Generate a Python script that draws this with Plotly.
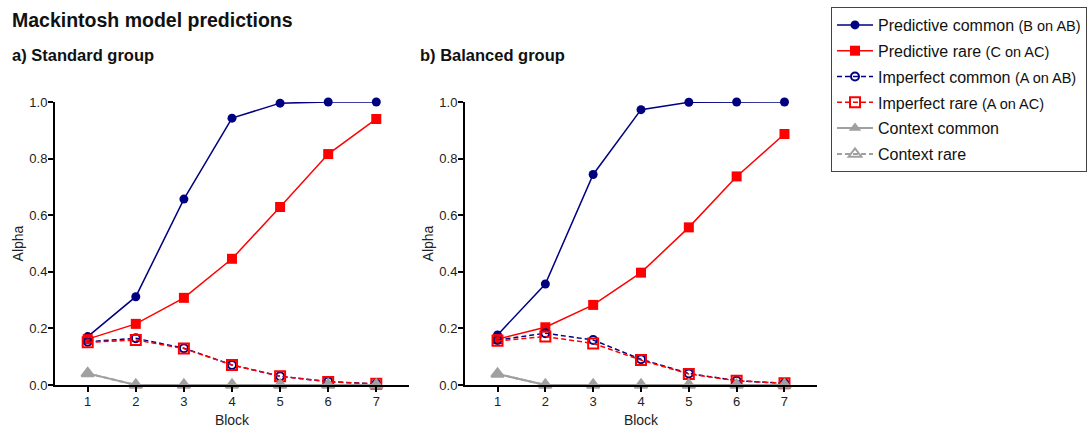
import plotly.graph_objects as go

blocks = [1, 2, 3, 4, 5, 6, 7]

# a) Standard group
std_pred_common = [0.171, 0.312, 0.657, 0.943, 0.996, 1.0, 1.0]
std_pred_rare = [0.162, 0.216, 0.308, 0.446, 0.629, 0.816, 0.940]
std_imp_common = [0.153, 0.165, 0.130, 0.071, 0.031, 0.012, 0.004]
std_imp_rare = [0.151, 0.159, 0.129, 0.071, 0.031, 0.011, 0.004]
std_ctx_common = [0.041, 0.0, 0.0, 0.0, 0.0, 0.0, 0.0]
std_ctx_rare = [0.041, 0.0, 0.0, 0.0, 0.0, 0.0, 0.0]

# b) Balanced group
bal_pred_common = [0.177, 0.357, 0.744, 0.973, 0.999, 1.0, 1.0]
bal_pred_rare = [0.162, 0.204, 0.283, 0.397, 0.557, 0.737, 0.887]
bal_imp_common = [0.159, 0.183, 0.159, 0.091, 0.041, 0.015, 0.006]
bal_imp_rare = [0.156, 0.171, 0.147, 0.088, 0.039, 0.015, 0.006]
bal_ctx_common = [0.039, 0.0, 0.0, 0.0, 0.0, 0.0, 0.0]
bal_ctx_rare = [0.039, 0.0, 0.0, 0.0, 0.0, 0.0, 0.0]

names = [
    "Predictive common <span style='font-size:14.5px'>(B on AB)</span>",
    "Predictive rare <span style='font-size:14.5px'>(C on AC)</span>",
    "Imperfect common <span style='font-size:14.5px'>(A on AB)</span>",
    "Imperfect rare <span style='font-size:14.5px'>(A on AC)</span>",
    "Context common",
    "Context rare",
]

NAVY = "#000080"
RED = "#FF0000"
GRAY = "#A0A0A0"
DASH = "5px,3px"
FONT = "Liberation Sans, Arial"

styles = [
    dict(line=dict(color=NAVY, width=1.5), marker=dict(symbol="circle", size=9, color=NAVY)),
    dict(line=dict(color=RED, width=1.5), marker=dict(symbol="square", size=10, color=RED)),
    dict(line=dict(color=NAVY, width=1.5, dash=DASH),
         marker=dict(symbol="circle-open", size=8, color=NAVY, line=dict(width=2))),
    dict(line=dict(color=RED, width=1.5, dash=DASH),
         marker=dict(symbol="square-open", size=10, color=RED, line=dict(width=2))),
    dict(line=dict(color=GRAY, width=2), marker=dict(symbol="triangle-up", size=11, color=GRAY)),
    dict(line=dict(color=GRAY, width=2, dash=DASH),
         marker=dict(symbol="triangle-up-open", size=11, color=GRAY, line=dict(width=2))),
]

std = [std_pred_common, std_pred_rare, std_imp_common, std_imp_rare, std_ctx_common, std_ctx_rare]
bal = [bal_pred_common, bal_pred_rare, bal_imp_common, bal_imp_rare, bal_ctx_common, bal_ctx_rare]

fig = go.Figure()
for i, (nm, st) in enumerate(zip(names, styles)):
    fig.add_trace(go.Scatter(x=blocks, y=std[i], mode="lines+markers", name=nm,
                             legendgroup=f"g{i}", showlegend=True,
                             xaxis="x", yaxis="y", cliponaxis=False, **st))
for i, (nm, st) in enumerate(zip(names, styles)):
    fig.add_trace(go.Scatter(x=blocks, y=bal[i], mode="lines+markers", name=nm,
                             legendgroup=f"g{i}", showlegend=False,
                             xaxis="x2", yaxis="y2", cliponaxis=False, **st))

W, H = 1090, 430
def px(x):
    return x / W
def py(y):
    return (H - y) / H

axis_common = dict(showgrid=False, zeroline=False, showline=True, linecolor="black",
                   linewidth=2, ticks="outside", ticklen=5, tickwidth=1.5, tickcolor="black",
                   automargin=False, ticklabelstandoff=-2,
                   tickfont=dict(family=FONT, size=13, color="#222"))

xcommon = dict(axis_common, range=[0.32, 7.68], tickvals=blocks, ticktext=[str(b) for b in blocks],
               title=dict(text="Block", font=dict(family=FONT, size=14, color="#222"),
                          standoff=8))
ycommon = dict(axis_common, range=[0, 1.0], tickvals=[0, 0.2, 0.4, 0.6, 0.8, 1.0],
               ticktext=["0.0", "0.2", "0.4", "0.6", "0.8", "1.0"],
               title=dict(text="Alpha", font=dict(family=FONT, size=14, color="#222"),
                          standoff=2))

fig.update_layout(
    width=W, height=H,
    margin=dict(l=0, r=0, t=0, b=0),
    paper_bgcolor="white", plot_bgcolor="white",
    font=dict(family=FONT, color="#222"),
    xaxis=dict(xcommon, domain=[px(55), px(409)], anchor="y"),
    yaxis=dict(ycommon, domain=[py(385), py(102)], anchor="x"),
    xaxis2=dict(xcommon, domain=[px(465), px(817)], anchor="y2"),
    yaxis2=dict(ycommon, domain=[py(385), py(102)], anchor="x2"),
    legend=dict(x=px(831), y=py(7), xanchor="left", yanchor="top",
                bordercolor="#444", borderwidth=1, bgcolor="white",
                font=dict(family=FONT, size=16, color="#111"),
                tracegroupgap=2, traceorder="grouped", itemwidth=36),
    showlegend=True,
    annotations=[
        dict(text="<b>Mackintosh model predictions</b>", x=px(10), y=py(20), xref="paper", yref="paper",
             xanchor="left", yanchor="middle", showarrow=False,
             font=dict(family=FONT, size=19.5, color="#111")),
        dict(text="<b>a) Standard group</b>", x=px(10), y=py(55), xref="paper", yref="paper",
             xanchor="left", yanchor="middle", showarrow=False,
             font=dict(family=FONT, size=16.5, color="#111")),
        dict(text="<b>b) Balanced group</b>", x=px(418), y=py(55), xref="paper", yref="paper",
             xanchor="left", yanchor="middle", showarrow=False,
             font=dict(family=FONT, size=16.5, color="#111")),
    ],
)

fig.write_html("out.html")
